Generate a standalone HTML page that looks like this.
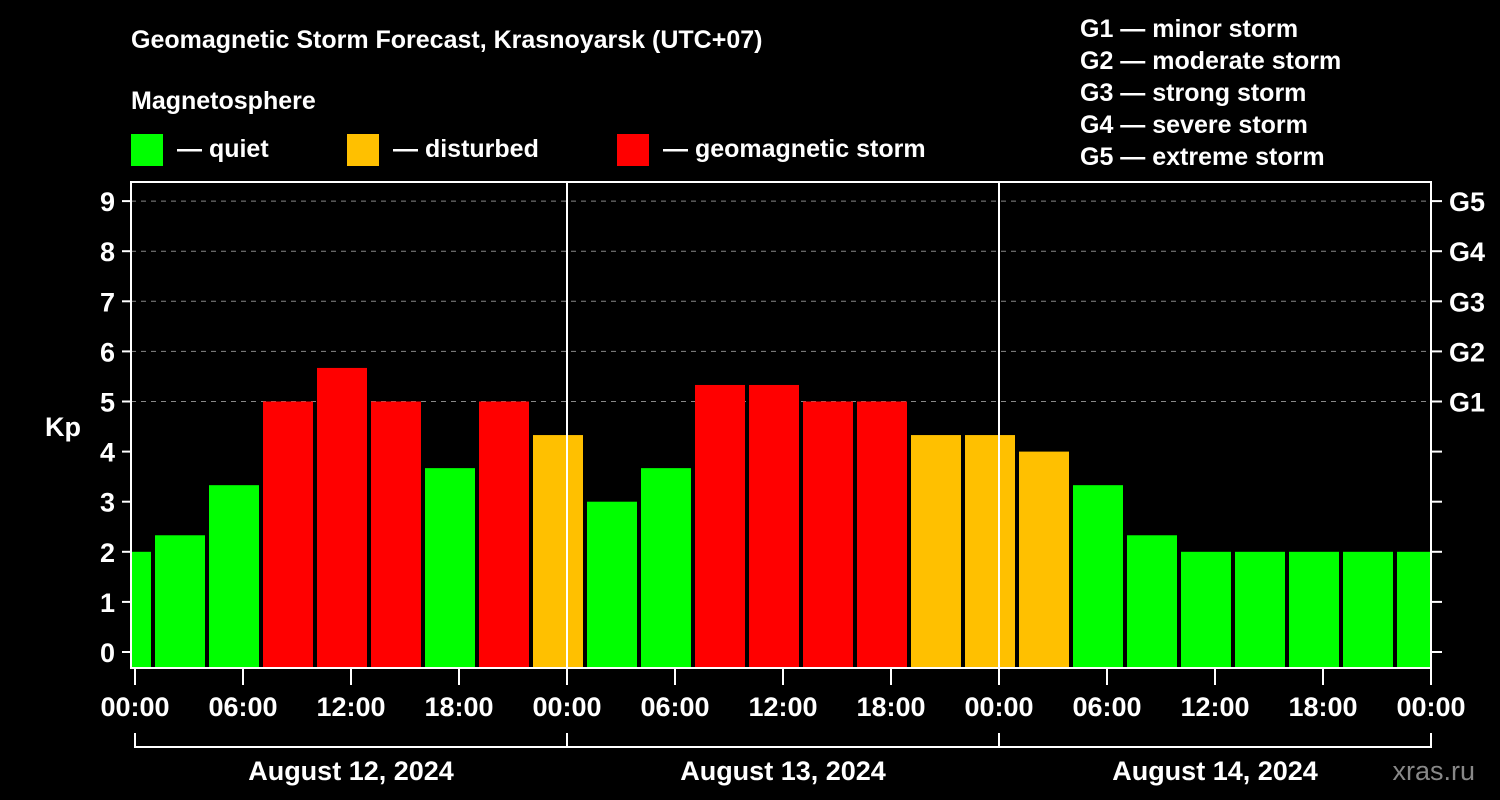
<!DOCTYPE html>
<html><head><meta charset="utf-8"><style>
html,body{margin:0;padding:0;background:#000;}
svg{display:block;font-family:"Liberation Sans",Arial,sans-serif;font-weight:bold;}
</style></head><body>
<svg id="chart" width="1500" height="800" viewBox="0 0 1500 800">
<rect width="1500" height="800" fill="#000"/>
<text x="131" y="48" fill="#fff" font-size="25">Geomagnetic Storm Forecast, Krasnoyarsk (UTC+07)</text>
<text x="131" y="109" fill="#fff" font-size="25">Magnetosphere</text>
<g><rect x="131" y="134" width="32" height="32" fill="#00ff00"/><text x="177" y="157" fill="#fff" font-size="25">— quiet</text></g>
<g><rect x="347" y="134" width="32" height="32" fill="#ffc000"/><text x="393" y="157" fill="#fff" font-size="25">— disturbed</text></g>
<g><rect x="617" y="134" width="32" height="32" fill="#ff0000"/><text x="663" y="157" fill="#fff" font-size="25">— geomagnetic storm</text></g>
<g fill="#fff" font-size="25">
<text x="1080" y="37">G1 — minor storm</text>
<text x="1080" y="69">G2 — moderate storm</text>
<text x="1080" y="101">G3 — strong storm</text>
<text x="1080" y="133">G4 — severe storm</text>
<text x="1080" y="165">G5 — extreme storm</text>
</g>
<text x="63" y="436" fill="#fff" font-size="27" text-anchor="middle">Kp</text>
<text x="1475" y="780" fill="#888" font-size="27" text-anchor="end" font-weight="normal">xras.ru</text>
<defs><clipPath id="plotclip"><rect x="132" y="183" width="1299" height="485"/></clipPath></defs>
<g id="grid"></g>
<g id="bars" clip-path="url(#plotclip)"></g>
<g id="axes"></g>
</svg>
<script>
const kpValues=[2,2.33,3.33,5,5.67,5,3.67,5,4.33,3,3.67,5.33,5.33,5,5,4.33,4.33,4,3.33,2.33,2,2,2,2,2];
const barStartHours=[-2,1,4,7,10,13,16,19,22,25,28,31,34,37,40,43,46,49,52,55,58,61,64,67,70];
const yTicks=[0,1,2,3,4,5,6,7,8,9];
const gLabels=["G1","G2","G3","G4","G5"];
const gLevels=[5,6,7,8,9];
const xTickLabels=["00:00","06:00","12:00","18:00","00:00","06:00","12:00","18:00","00:00","06:00","12:00","18:00","00:00"];
const dayLabels=["August 12, 2024","August 13, 2024","August 14, 2024"];
const NS="http://www.w3.org/2000/svg";
const X0=135,PXH=18,Y0=652,PXK=50.1,LEFT=131,RIGHT=1431,TOP=182,BOT=668;
const xs=h=>X0+h*PXH, ys=k=>Y0-k*PXK;
function mk(tag,attrs,parent){const e=document.createElementNS(NS,tag);for(const k in attrs)e.setAttribute(k,attrs[k]);document.getElementById(parent).appendChild(e);return e;}
function color(k){return k>=5?"#ff0000":(k>=4?"#ffc000":"#00ff00");}
// grid
gLevels.forEach(k=>{const l=mk("line",{x1:LEFT,x2:RIGHT,y1:ys(k),y2:ys(k),stroke:"#888","stroke-dasharray":"5,5","stroke-width":1},"grid");

});
// bars
kpValues.forEach((v,i)=>{const x=xs(barStartHours[i])+2;const r=mk("rect",{x:x,width:3*PXH-4,y:ys(v),height:(BOT-1)-ys(v),fill:color(v)},"bars");

});
// day separators
[24,48].forEach(h=>{const l=mk("line",{x1:xs(h),x2:xs(h),y1:TOP,y2:BOT,stroke:"#fff","stroke-width":2},"axes");

});
// frame
const f=mk("rect",{x:LEFT,y:TOP,width:RIGHT-LEFT,height:BOT-TOP,fill:"none",stroke:"#fff","stroke-width":2},"axes");


yTicks.forEach(k=>{
const t=mk("line",{x1:122,x2:LEFT,y1:ys(k),y2:ys(k),stroke:"#fff","stroke-width":2},"axes");


const t2=mk("line",{x1:RIGHT,x2:1442,y1:ys(k),y2:ys(k),stroke:"#fff","stroke-width":2},"axes");


const lb=mk("text",{x:115,y:ys(k)+10,fill:"#fff","font-size":27,"text-anchor":"end"},"axes");lb.textContent=k;

});
gLabels.forEach((g,i)=>{const lb=mk("text",{x:1449,y:ys(gLevels[i])+10,fill:"#fff","font-size":27},"axes");lb.textContent=g;

});
xTickLabels.forEach((s,i)=>{const x=xs(i*6);
const t=mk("line",{x1:x,x2:x,y1:BOT,y2:685,stroke:"#fff","stroke-width":2},"axes");


const lb=mk("text",{x:x,y:716,fill:"#fff","font-size":27,"text-anchor":"middle"},"axes");lb.textContent=s;

});
const br=mk("path",{d:`M${xs(0)} 733V747H${xs(72)}V733M${xs(24)} 733V747M${xs(48)} 733V747`,stroke:"#fff","stroke-width":2,fill:"none"},"axes");


dayLabels.forEach((d,i)=>{const lb=mk("text",{x:xs(i*24+12),y:780,fill:"#fff","font-size":27,"text-anchor":"middle"},"axes");lb.textContent=d;

});
</script>
</body></html>
